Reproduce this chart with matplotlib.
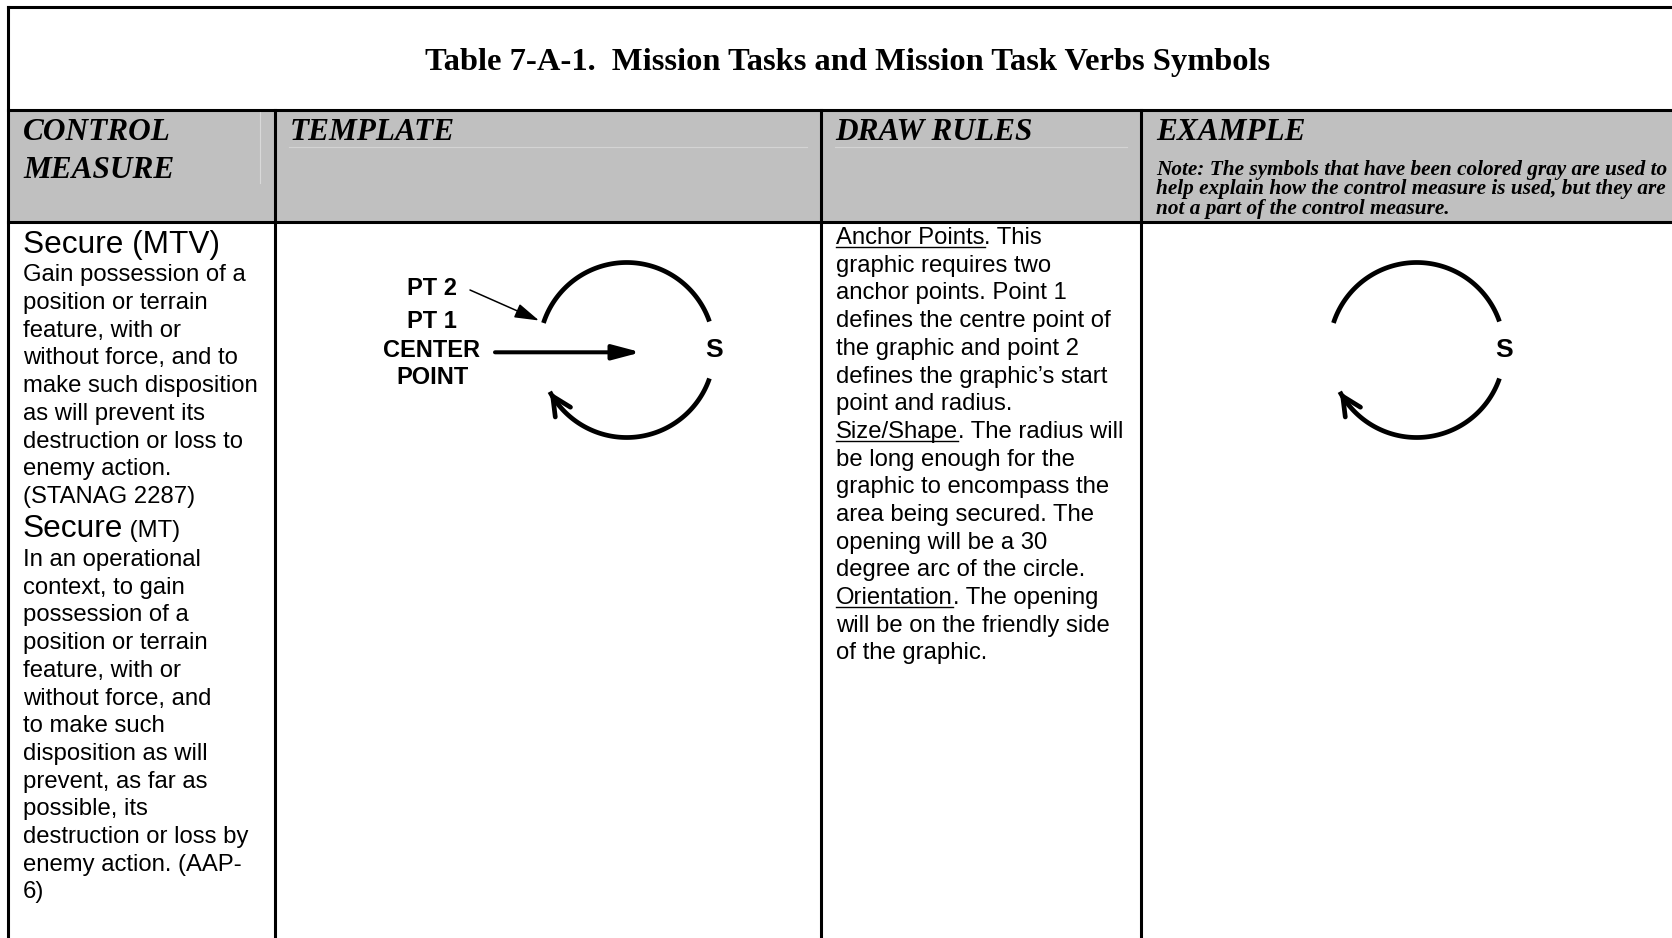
import numpy as np
import matplotlib.pyplot as plt
from matplotlib.patches import FancyArrowPatch, Rectangle

plt.rcParams['font.family'] = ['Liberation Sans', 'DejaVu Sans']

# table content
title = 'Table 7-A-1.  Mission Tasks and Mission Task Verbs Symbols'
headers = [['CONTROL', 'MEASURE'], ['TEMPLATE'], ['DRAW RULES'], ['EXAMPLE']]
note_lines = ['Note: The symbols that have been colored gray are used to',
              'help explain how the control measure is used, but they are',
              'not a part of the control measure.']
mtv_title = 'Secure (MTV)'
mtv_lines = ['Gain possession of a', 'position or terrain', 'feature, with or',
             'without force, and to', 'make such disposition', 'as will prevent its',
             'destruction or loss to', 'enemy action.', '(STANAG 2287)']
mt_title = ['Secure', ' (MT)']
mt_lines = ['In an operational', 'context, to gain', 'possession of a',
            'position or terrain', 'feature, with or', 'without force, and',
            'to make such', 'disposition as will', 'prevent, as far as',
            'possible, its', 'destruction or loss by', 'enemy action. (AAP-', '6)']
# (text, underlined) runs per line
rule_lines = [[('Anchor Points', True), ('. This', False)],
              [('graphic requires two', False)],
              [('anchor points. Point 1', False)],
              [('defines the centre point of', False)],
              [('the graphic and point 2', False)],
              [('defines the graphic\u2019s start', False)],
              [('point and radius.', False)],
              [('Size/Shape', True), ('. The radius will', False)],
              [('be long enough for the', False)],
              [('graphic to encompass the', False)],
              [('area being secured. The', False)],
              [('opening will be a 30', False)],
              [('degree arc of the circle.', False)],
              [('Orientation', True), ('. The opening', False)],
              [('will be on the friendly side', False)],
              [('of the graphic.', False)]]
template_labels = ['PT 2', 'PT 1', 'CENTER', 'POINT']
label_base = [295, 328, 357, 384]
symbol_letter = 'S'

W, H = 1672, 938
col_x = [7.5, 275, 821, 1141, W]
serif = 'Liberation Serif'
line_h = 27.7

fig = plt.figure(figsize=(W / 100, H / 100), dpi=100, facecolor='w')
ax = fig.add_axes([0, 0, 1, 1])
ax.set_xlim(0, W)
ax.set_ylim(H, 0)
ax.axis('off')
rend = fig.canvas.get_renderer()


def put_runs(x, y, runs, **kw):
    for s, ul in runs:
        t = ax.text(x, y, s, ha='left', va='baseline', **kw)
        bb = t.get_window_extent(renderer=rend)
        x1 = ax.transData.inverted().transform((bb.x1, bb.y0))[0]
        if ul:
            ax.plot([x, x1], [y + 3, y + 3], color='k', lw=1.0)
        x = x1


def secure_symbol(cx, cy, r=87.5):
    th = np.radians(np.linspace(19, 162, 120))
    ax.plot(cx + r * np.cos(th), cy - r * np.sin(th), color='k', lw=3.4,
            solid_capstyle='butt')
    th = np.radians(np.linspace(-19, -151.5, 120))
    ax.plot(cx + r * np.cos(th), cy - r * np.sin(th), color='k', lw=3.4,
            solid_capstyle='butt')
    a0, a1 = np.radians(-143), np.radians(-151.5)
    ax.add_patch(FancyArrowPatch((cx + r * np.cos(a0), cy - r * np.sin(a0)),
                                 (cx + r * np.cos(a1), cy - r * np.sin(a1)),
                                 arrowstyle='->,head_length=1.35,head_width=0.65',
                                 mutation_scale=10, lw=3.4, color='k',
                                 shrinkA=0, shrinkB=0))
    ax.text(cx + r, cy, symbol_letter, ha='center', va='center',
            fontsize=19, fontweight='bold')


# header band
ax.add_patch(Rectangle((col_x[0], 110), W - col_x[0], 112, facecolor='#c0c0c0',
                       edgecolor='none'))
# faint artefact lines of the source document
ax.plot([260, 260], [112, 183], color='#d9d9d9', lw=0.8)
ax.plot([289, 807], [147, 147], color='#d4d4d4', lw=0.8)
ax.plot([835, 1127], [147, 147], color='#d4d4d4', lw=0.8)

# grid lines
lw = 2.2
ax.plot([col_x[0], W], [7.5, 7.5], color='k', lw=lw)
ax.plot([col_x[0], col_x[0]], [7.5, H], color='k', lw=lw)
ax.plot([col_x[0], W], [110, 110], color='k', lw=lw)
ax.plot([col_x[0], W], [222, 222], color='k', lw=lw)
for x in col_x[1:4]:
    ax.plot([x, x], [110, H], color='k', lw=lw)

# title
ax.text(848, 70, title, ha='center', va='baseline', fontsize=23.4,
        fontweight='bold', family=serif)

# header labels
hx = [23, 290, 835, 1156]
for x, lines in zip(hx, headers):
    for i, s in enumerate(lines):
        ax.text(x, 140.5 + i * 37.5, s, ha='left', va='baseline', fontsize=22.5,
                fontweight='bold', fontstyle='italic', family=serif)
for i, s in enumerate(note_lines):
    ax.text(1156, 175 + i * 19.3, s, ha='left', va='baseline', fontsize=15.3,
            fontweight='bold', fontstyle='italic', family=serif)

# control measure column
ax.text(23, 253, mtv_title, ha='left', va='baseline', fontsize=22.8)
for i, s in enumerate(mtv_lines):
    ax.text(23, 281.3 + i * line_h, s, ha='left', va='baseline', fontsize=17.2)
t = ax.text(23, 537, mt_title[0], ha='left', va='baseline', fontsize=22.8)
bb = t.get_window_extent(renderer=rend)
ax.text(ax.transData.inverted().transform((bb.x1, bb.y0))[0], 537, mt_title[1],
        ha='left', va='baseline', fontsize=17.2)
for i, s in enumerate(mt_lines):
    ax.text(23, 566 + i * line_h, s, ha='left', va='baseline', fontsize=17.2)

# template column
for s, yb in zip(template_labels, label_base):
    ax.text(432, yb, s, ha='center', va='baseline', fontsize=17, fontweight='bold')
ax.add_patch(FancyArrowPatch((495, 352.3), (641, 352.3),
                             arrowstyle='-|>,head_length=1.7,head_width=0.45',
                             mutation_scale=10, lw=2.9, color='k',
                             shrinkA=0, shrinkB=0))
ax.add_patch(FancyArrowPatch((470, 290), (539, 320.5),
                             arrowstyle='-|>,head_length=1.5,head_width=0.45',
                             mutation_scale=10, lw=1.1, color='k',
                             shrinkA=0, shrinkB=0))
secure_symbol(626.7, 350)

# draw rules column
for i, runs in enumerate(rule_lines):
    put_runs(836, 244 + i * line_h, runs, fontsize=17.2)

# example column
secure_symbol(1416.7, 350)

fig.savefig('out.png', dpi=100, facecolor='w')
